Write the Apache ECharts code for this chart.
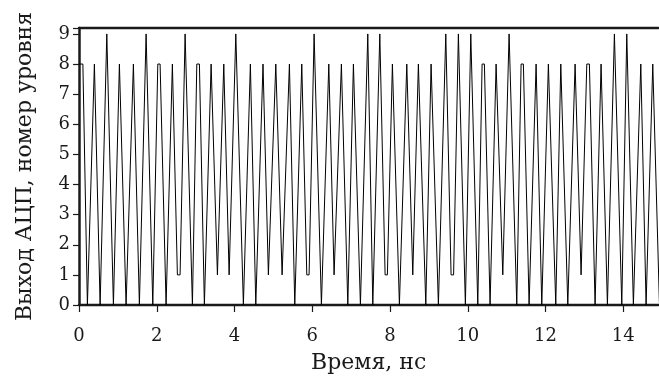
<!DOCTYPE html>
<html>
<head>
<meta charset="utf-8">
<script src="https://cdn.jsdelivr.net/npm/echarts@6/dist/echarts.min.js"></script>
<style>
  html, body { margin: 0; padding: 0; background: #fff; }
  #chart { width: 659px; height: 379px; }
</style>
</head>
<body>
<div id="chart"></div>
<script>
// ADC output samples: time (ns) and quantisation level number.
// A held level (two equal neighbouring samples) gives a short flat top or bottom.
const sampleTimes = [
  0.000, 0.100, 0.216, 0.396, 0.543, 0.715, 0.885, 1.039, 1.211, 1.399,
  1.553, 1.726, 1.898, 2.027, 2.086, 2.240, 2.402, 2.531, 2.600, 2.729,
  2.917, 3.030, 3.097, 3.225, 3.398, 3.560, 3.724, 3.861, 3.912, 4.033,
  4.228, 4.408, 4.547, 4.733, 4.871, 5.062, 5.113, 5.224, 5.412, 5.550,
  5.730, 5.859, 5.918, 6.047, 6.235, 6.425, 6.561, 6.749, 6.914, 7.058,
  7.238, 7.428, 7.557, 7.737, 7.873, 7.932, 8.061, 8.241, 8.431, 8.585,
  8.729, 8.920, 9.056, 9.244, 9.434, 9.570, 9.635, 9.758, 9.938, 10.077,
  10.257, 10.368, 10.427, 10.573, 10.728, 10.900, 11.062, 11.260, 11.371, 11.430,
  11.577, 11.757, 11.903, 12.073, 12.109, 12.263, 12.392, 12.572, 12.760, 12.914,
  13.061, 13.128, 13.274, 13.428, 13.591, 13.771, 13.961, 14.089, 14.259, 14.450,
  14.586, 14.758, 14.930
];
const adcLevels = [
  8, 8, 0, 8, 0, 9, 0, 8, 0, 8,
  0, 9, 0, 8, 8, 0, 8, 1, 1, 9,
  0, 8, 8, 0, 8, 1, 8, 1, 1, 9,
  0, 8, 0, 8, 1, 8, 8, 1, 8, 0,
  8, 1, 1, 9, 0, 8, 1, 8, 0, 8,
  0, 9, 0, 9, 1, 1, 8, 0, 8, 1,
  8, 0, 8, 0, 9, 1, 1, 9, 0, 9,
  0, 8, 8, 0, 8, 1, 9, 0, 8, 8,
  0, 8, 0, 8, 8, 0, 8, 0, 8, 1,
  8, 8, 0, 8, 0, 9, 0, 9, 0, 8,
  0, 8, 0
];
const xTicks = [0, 2, 4, 6, 8, 10, 12, 14];
const yTicks = [0, 1, 2, 3, 4, 5, 6, 7, 8, 9];

const xLabel = 'Время, нс';
const yLabel = 'Выход АЦП, номер уровня';

const points = sampleTimes.map((t, i) => [t, adcLevels[i]]);

const serif = '"DejaVu Serif", "Liberation Serif", serif';
const ink = '#1a1a1a';
const tickFont = { fontFamily: serif, fontSize: 18, color: ink };

const chart = echarts.init(document.getElementById('chart'), null, { renderer: 'canvas' });
chart.setOption({
  animation: false,
  backgroundColor: '#ffffff',
  grid: { left: 79, top: 27.9, width: 579.3, bottom: 70.2, containLabel: false },
  xAxis: [
    {
      type: 'value', min: 0, max: 14.9, interval: 2,
      name: xLabel, nameLocation: 'middle', nameGap: 47,
      nameTextStyle: { fontFamily: serif, fontSize: 22, color: ink },
      axisLine: { show: true, onZero: false, lineStyle: { color: ink, width: 2.3 } },
      axisTick: { show: true, inside: false, length: 7, lineStyle: { color: ink, width: 1.2 } },
      axisLabel: Object.assign({ margin: 22, showMaxLabel: false,
        formatter: v => xTicks.includes(v) ? String(v) : '' }, tickFont),
      splitLine: { show: false }
    },
    {
      type: 'value', position: 'top', min: 0, max: 14.9,
      axisLine: { show: true, onZero: false, lineStyle: { color: ink, width: 2.3 } },
      axisTick: { show: false }, axisLabel: { show: false }, splitLine: { show: false }
    }
  ],
  yAxis: {
    type: 'value', min: 0, max: 9.2, interval: 1,
    name: yLabel, nameLocation: 'middle', nameGap: 43,
    nameTextStyle: { fontFamily: serif, fontSize: 22, color: ink },
    axisLine: { show: true, onZero: false, lineStyle: { color: ink, width: 2.5 } },
    axisTick: { show: true, inside: false, length: 6, lineStyle: { color: ink, width: 1.2 } },
    axisLabel: Object.assign({ margin: 9,
      formatter: v => yTicks.includes(v) ? String(v) : '' }, tickFont),
    splitLine: { show: false }
  },
  series: [{
    type: 'line',
    data: points,
    showSymbol: false,
    clip: true,
    lineStyle: { color: '#000000', width: 1 }
  }]
});
</script>
</body>
</html>
